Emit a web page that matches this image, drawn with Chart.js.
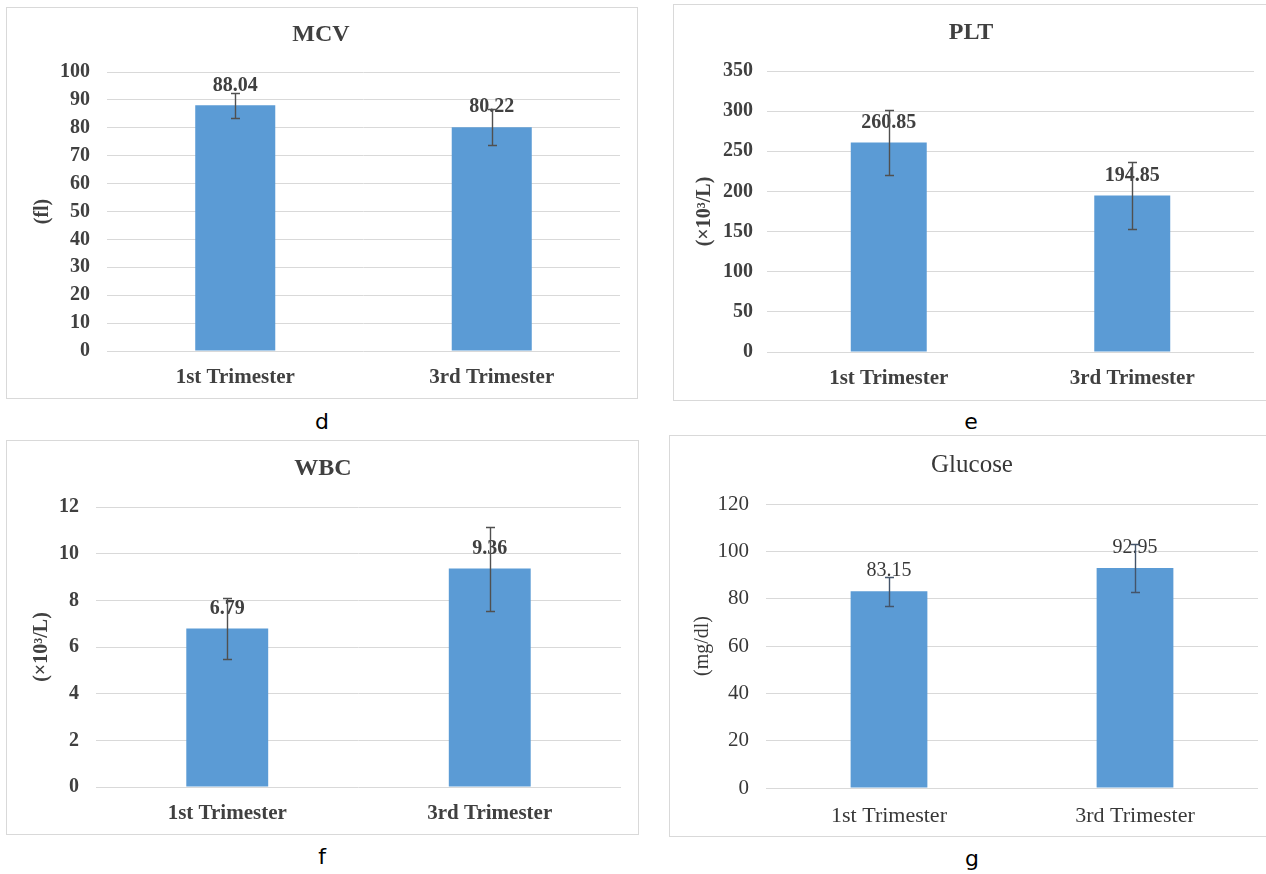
<!DOCTYPE html>
<html>
<head>
<meta charset="utf-8">
<script src="https://cdn.jsdelivr.net/npm/chart.js@4.4.1/dist/chart.umd.min.js"></script>
<style>
  html, body { margin: 0; padding: 0; background: #ffffff; }
  body { width: 1266px; height: 874px; position: relative; overflow: hidden; }
  .frame { position: absolute; border: 1px solid #d9d9d9; box-sizing: border-box; background: #fff; }
  .frame canvas { position: absolute; left: 0; top: 0; }
  .tag { position: absolute; font-family: "DejaVu Sans", sans-serif; font-size: 22px; color: #000; transform: translate(-50%, -50%); line-height: 1; }
</style>
</head>
<body>
<div class="frame" id="fd" style="left:6px;top:7px;width:632px;height:392px;"><canvas id="cd"></canvas></div>
<div class="frame" id="fe" style="left:673px;top:4px;width:597px;height:397px;"><canvas id="ce"></canvas></div>
<div class="frame" id="ff" style="left:6px;top:440px;width:633px;height:395px;"><canvas id="cf"></canvas></div>
<div class="frame" id="fg" style="left:669px;top:435px;width:601px;height:402px;"><canvas id="cg"></canvas></div>
<div class="tag" style="left:322px;top:422px;">d</div>
<div class="tag" style="left:971px;top:422px;">e</div>
<div class="tag" style="left:322px;top:857px;">f</div>
<div class="tag" style="left:972px;top:859px;">g</div>
<script>
// Categories shared by all four panels
const categories = ['1st Trimester', '3rd Trimester'];

// Mean values and error-bar half widths per panel
const mcvValues = [88.04, 80.22];
const mcvErrors = [4.4, 6.4];

const pltValues = [260.85, 194.85];
const pltErrors = [40.5, 41.3];

const wbcValues = [6.79, 9.36];
const wbcErrors = [1.3, 1.8];

const glucoseValues = [83.15, 92.95];
const glucoseErrors = [6.1, 10.0];

// Axis ranges: [min, max, step]
const mcvAxis = [0, 100, 10];
const pltAxis = [0, 350, 50];
const wbcAxis = [0, 12, 2];
const glucoseAxis = [0, 120, 20];

const BAR_BLUE = '#5B9BD5';
const GRID = '#D9D9D9';

// Draws value labels above each bar, then the error bars over them
const barAnnotations = {
  id: 'barAnnotations',
  afterDatasetsDraw(chart, args, opts) {
    const ctx = chart.ctx;
    const meta = chart.getDatasetMeta(0);
    const ds = chart.data.datasets[0];
    const yScale = chart.scales.y;
    ctx.save();
    ctx.font = opts.font;
    ctx.fillStyle = opts.color;
    ctx.textAlign = 'center';
    ctx.textBaseline = 'middle';
    meta.data.forEach((bar, i) => {
      ctx.fillText(ds.data[i].toFixed(2), bar.x, bar.y - 20);
    });
    ctx.strokeStyle = opts.errColor;
    ctx.lineWidth = 1.4;
    meta.data.forEach((bar, i) => {
      const v = ds.data[i], e = ds.errors[i];
      const yHi = Math.round(yScale.getPixelForValue(v + e)) + 0.5;
      const yLo = Math.round(yScale.getPixelForValue(v - e)) + 0.5;
      const x = Math.round(bar.x) + 0.5;
      ctx.beginPath();
      ctx.moveTo(x, yHi); ctx.lineTo(x, yLo);
      ctx.moveTo(x - 4.5, yHi); ctx.lineTo(x + 4.5, yHi);
      ctx.moveTo(x - 4.5, yLo); ctx.lineTo(x + 4.5, yLo);
      ctx.stroke();
    });
    ctx.restore();
  }
};

function makePanel(cfg) {
  const canvas = document.getElementById(cfg.canvas);
  const frame = document.getElementById(cfg.frame);
  const W = frame.clientWidth, H = frame.clientHeight;
  canvas.width = W; canvas.height = H;
  canvas.style.width = W + 'px'; canvas.style.height = H + 'px';

  const weight = cfg.bold ? 'bold' : 'normal';
  const family = '"Liberation Serif", "Times New Roman", serif';
  const titleSize = cfg.titleSize || 24;
  const titleLH = titleSize * 1.2;
  const padTop = cfg.titleY - titleLH / 2;
  const yTitleLH = 20 * 1.2;
  const padLeft = 2 * cfg.titleX - cfg.area.r;

  new Chart(canvas, {
    type: 'bar',
    data: {
      labels: categories,
      datasets: [{
        data: cfg.values,
        errors: cfg.errors,
        backgroundColor: BAR_BLUE,
        borderWidth: 0,
        categoryPercentage: 1.0,
        barPercentage: 0.312
      }]
    },
    options: {
      responsive: false,
      animation: false,
      devicePixelRatio: 1,
      layout: { padding: { left: padLeft, right: W - cfg.area.r, top: padTop, bottom: 0 } },
      plugins: {
        legend: { display: false },
        tooltip: { enabled: false },
        title: {
          display: true,
          text: cfg.title,
          color: cfg.textColor,
          font: { family: family, size: titleSize, weight: weight, lineHeight: 1.2 },
          padding: { top: 0, bottom: cfg.area.t - padTop - titleLH }
        },
        barAnnotations: {
          font: weight + ' 20px ' + family,
          color: cfg.textColor,
          errColor: cfg.errColor
        }
      },
      scales: {
        x: {
          grid: { display: false, drawTicks: false },
          border: { display: false },
          ticks: {
            color: cfg.textColor,
            padding: cfg.xPad,
            font: { family: family, size: cfg.xSize, weight: weight, lineHeight: 1.2 }
          },
          afterFit(scale) { scale.height = H - cfg.area.b; }
        },
        y: {
          min: cfg.axis[0], max: cfg.axis[1],
          grid: { color: GRID, lineWidth: 1, drawTicks: false },
          border: { display: false },
          ticks: {
            stepSize: cfg.axis[2],
            color: cfg.textColor,
            padding: cfg.yPad,
            font: { family: family, size: cfg.ySize, weight: weight, lineHeight: 1.2 }
          },
          title: {
            display: true,
            text: cfg.yTitle,
            color: cfg.textColor,
            font: { family: family, size: 20, weight: weight, lineHeight: 1.2 },
            padding: { top: cfg.yTitleX - yTitleLH / 2 - padLeft, bottom: 0 }
          },
          afterFit(scale) { scale.width = cfg.area.l - padLeft; }
        }
      }
    },
    plugins: [barAnnotations]
  });
}

// Panel geometry is given in canvas coordinates (frame origin + 1px border)
makePanel({
  canvas: 'cd', frame: 'fd', title: 'MCV', yTitle: '(fl)',
  values: mcvValues, errors: mcvErrors, axis: mcvAxis,
  area: { l: 100, r: 613, t: 64, b: 343 },
  titleX: 314, titleY: 27, yTitleX: 36, xPad: 14, yPad: 17, xSize: 21, ySize: 20,
  bold: true, textColor: '#404040', errColor: '#505050'
});
makePanel({
  canvas: 'ce', frame: 'fe', title: 'PLT', yTitle: '(×10³/L)',
  values: pltValues, errors: pltErrors, axis: pltAxis,
  area: { l: 93, r: 580, t: 66, b: 347 },
  titleX: 297, titleY: 28, yTitleX: 31, xPad: 14, yPad: 14, xSize: 21, ySize: 20,
  bold: true, textColor: '#404040', errColor: '#505050'
});
makePanel({
  canvas: 'cf', frame: 'ff', title: 'WBC', yTitle: '(×10³/L)',
  values: wbcValues, errors: wbcErrors, axis: wbcAxis,
  area: { l: 89, r: 614, t: 66, b: 346 },
  titleX: 316, titleY: 28, yTitleX: 35, xPad: 14, yPad: 17, xSize: 21, ySize: 20,
  bold: true, textColor: '#404040', errColor: '#505050'
});
makePanel({
  canvas: 'cg', frame: 'fg', title: 'Glucose', yTitle: '(mg/dl)',
  values: glucoseValues, errors: glucoseErrors, axis: glucoseAxis,
  area: { l: 96, r: 588, t: 68, b: 352 },
  titleX: 302, titleY: 29, yTitleX: 33, xPad: 15, yPad: 17, xSize: 22, ySize: 21,
  titleSize: 25,
  bold: false, textColor: '#383838', errColor: '#44546A'
});
</script>
</body>
</html>
